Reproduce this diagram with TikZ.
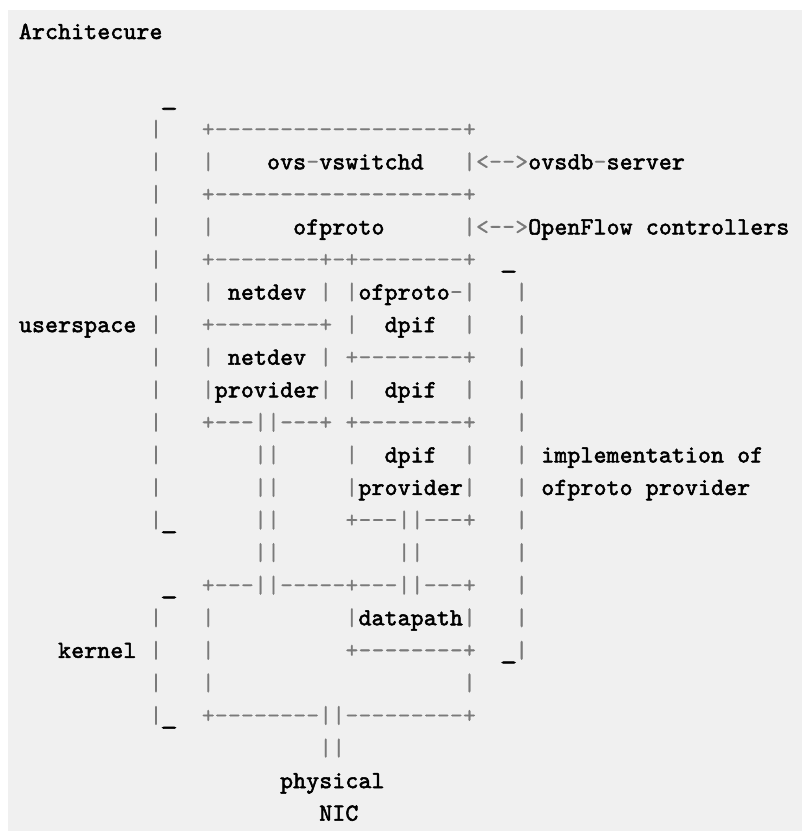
\documentclass[tikz,border=0pt]{standalone}
\usepackage{fontspec}
\usepackage{graphicx}
\newfontfamily\txfont{lmmono10-regular.otf}[FakeBold=2.2]
\newfontfamily\pnfont{lmmono10-regular.otf}[FakeBold=0.6]
\definecolor{bgpanel}{HTML}{F0F0F0}
\definecolor{punct}{HTML}{7A7A7A}
\newlength\cw
\setlength\cw{13.06pt}
\def\eachc#1{\ifx#1\relax\else\makebox[\cw][c]{#1}\expandafter\eachc\fi}
\newcommand\tx[1]{{\txfont\bfseries\color{black}\eachc#1\relax}}
\newcommand\pn[1]{{\pnfont\color{punct}\eachc#1\relax}}
\newcommand\us{{\txfont\bfseries\color{black}\makebox[\cw][c]{\raisebox{-1.5pt}{\scalebox{1.35}[1]{\_}}}}}
\newcommand\sk[1]{\hspace*{#1\cw}}
\begin{document}
\begin{tikzpicture}[x=1pt,y=1pt,
  asc/.style={anchor=base west, inner sep=0pt, outer sep=0pt,
    font=\fontsize{24.5}{26}\selectfont, text=black}]
\useasboundingbox (0,0) rectangle (802,831);
\fill[bgpanel] (8,0) rectangle (802,821);
\def\xo{18.87}
\node[asc] (l0) at (\xo,{792-32.57*0}) {\tx{Architecure}};
\node[asc] (l2) at (\xo,{792-32.57*2}) {\sk{11}\us};
\node[asc] (l3) at (\xo,{792-32.57*3}) {\sk{10}\pn{|}\sk{3}\pn{+-------------------+}};
\node[asc] (l4) at (\xo,{792-32.57*4}) {\sk{10}\pn{|}\sk{3}\pn{|}\sk{4}\tx{ovs}\pn{-}\tx{vswitchd}\sk{3}\pn{|<-->}\tx{ovsdb}\pn{-}\tx{server}};
\node[asc] (l5) at (\xo,{792-32.57*5}) {\sk{10}\pn{|}\sk{3}\pn{+-------------------+}};
\node[asc] (l6) at (\xo,{792-32.57*6}) {\sk{10}\pn{|}\sk{3}\pn{|}\sk{6}\tx{ofproto}\sk{6}\pn{|<-->}\tx{OpenFlow}\sk{1}\tx{controllers}};
\node[asc] (l7) at (\xo,{792-32.57*7}) {\sk{10}\pn{|}\sk{3}\pn{+--------+-+--------+}\sk{2}\us};
\node[asc] (l8) at (\xo,{792-32.57*8}) {\sk{10}\pn{|}\sk{3}\pn{|}\sk{1}\tx{netdev}\sk{1}\pn{|}\sk{1}\pn{|}\tx{ofproto}\pn{-|}\sk{3}\pn{|}};
\node[asc] (l9) at (\xo,{792-32.57*9}) {\tx{userspace}\sk{1}\pn{|}\sk{3}\pn{+--------+}\sk{1}\pn{|}\sk{2}\tx{dpif}\sk{2}\pn{|}\sk{3}\pn{|}};
\node[asc] (l10) at (\xo,{792-32.57*10}) {\sk{10}\pn{|}\sk{3}\pn{|}\sk{1}\tx{netdev}\sk{1}\pn{|}\sk{1}\pn{+--------+}\sk{3}\pn{|}};
\node[asc] (l11) at (\xo,{792-32.57*11}) {\sk{10}\pn{|}\sk{3}\pn{|}\tx{provider}\pn{|}\sk{1}\pn{|}\sk{2}\tx{dpif}\sk{2}\pn{|}\sk{3}\pn{|}};
\node[asc] (l12) at (\xo,{792-32.57*12}) {\sk{10}\pn{|}\sk{3}\pn{+---||---+}\sk{1}\pn{+--------+}\sk{3}\pn{|}};
\node[asc] (l13) at (\xo,{792-32.57*13}) {\sk{10}\pn{|}\sk{7}\pn{||}\sk{5}\pn{|}\sk{2}\tx{dpif}\sk{2}\pn{|}\sk{3}\pn{|}\sk{1}\tx{implementation}\sk{1}\tx{of}};
\node[asc] (l14) at (\xo,{792-32.57*14}) {\sk{10}\pn{|}\sk{7}\pn{||}\sk{5}\pn{|}\tx{provider}\pn{|}\sk{3}\pn{|}\sk{1}\tx{ofproto}\sk{1}\tx{provider}};
\node[asc] (l15) at (\xo,{792-32.57*15}) {\sk{10}\pn{|}\us\sk{6}\pn{||}\sk{5}\pn{+---||---+}\sk{3}\pn{|}};
\node[asc] (l16) at (\xo,{792-32.57*16}) {\sk{18}\pn{||}\sk{9}\pn{||}\sk{7}\pn{|}};
\node[asc] (l17) at (\xo,{792-32.57*17}) {\sk{11}\us\sk{2}\pn{+---||-----+---||---+}\sk{3}\pn{|}};
\node[asc] (l18) at (\xo,{792-32.57*18}) {\sk{10}\pn{|}\sk{3}\pn{|}\sk{10}\pn{|}\tx{datapath}\pn{|}\sk{3}\pn{|}};
\node[asc] (l19) at (\xo,{792-32.57*19}) {\sk{3}\tx{kernel}\sk{1}\pn{|}\sk{3}\pn{|}\sk{10}\pn{+--------+}\sk{2}\us\pn{|}};
\node[asc] (l20) at (\xo,{792-32.57*20}) {\sk{10}\pn{|}\sk{3}\pn{|}\sk{19}\pn{|}};
\node[asc] (l21) at (\xo,{792-32.57*21}) {\sk{10}\pn{|}\us\sk{2}\pn{+--------||---------+}};
\node[asc] (l22) at (\xo,{792-32.57*22}) {\sk{23}\pn{||}};
\node[asc] (l23) at (\xo,{792-32.57*23}) {\sk{20}\tx{physical}};
\node[asc] (l24) at (\xo,{792-32.57*24}) {\sk{23}\tx{NIC}};
\end{tikzpicture}
\end{document}
